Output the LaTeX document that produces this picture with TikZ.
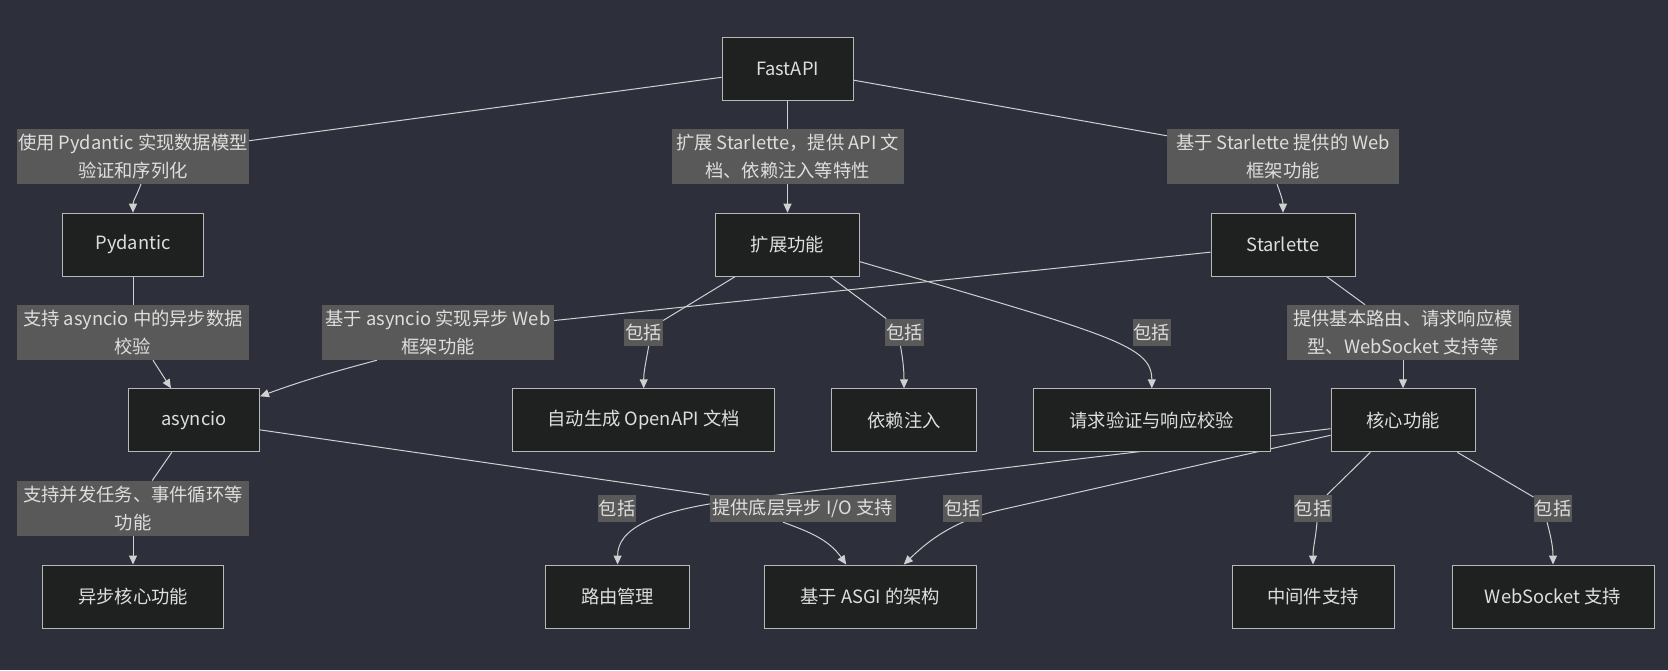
\documentclass[tikz,border=0pt]{standalone}
\usepackage{fontspec}
\setmainfont{Noto Sans CJK SC}
\usetikzlibrary{arrows.meta}
\definecolor{bgc}{HTML}{2D303B}
\definecolor{nodefill}{HTML}{1F2020}
\definecolor{nodeborder}{HTML}{B8B8B8}
\definecolor{labelfill}{HTML}{595959}
\definecolor{txt}{HTML}{DEDEDE}
\definecolor{edgecol}{HTML}{D0D0D0}
\pgfdeclarelayer{backdrop}
\pgfdeclarelayer{edges}
\pgfsetlayers{backdrop,edges,main}
\begin{document}
\begin{tikzpicture}[x=1pt,y=1pt,font=\fontsize{18.3}{27.5}\selectfont,
  box/.style={draw=nodeborder,fill=nodefill,line width=1pt,minimum height=63pt,text=txt,inner sep=0pt},
  elabel/.style={fill=labelfill,text=txt,inner sep=1pt,align=center},
  lbltwo/.style={elabel,minimum width=232pt,minimum height=55pt},
  inc/.style={elabel,minimum width=36.5pt,minimum height=27pt},
  conn/.style={draw=edgecol,line width=1pt},
  arr/.style={conn,-{Triangle[length=9pt,width=8pt]}}]
\begin{pgfonlayer}{backdrop}
\fill[bgc] (0,0) rectangle (1668,-670);
\end{pgfonlayer}
\useasboundingbox (0,0) rectangle (1668,-670);
% nodes
\node[box,minimum width=131pt] (fastapi) at (787.5,-68.5) {FastAPI};
\node[box,minimum width=141pt] (pyd) at (133,-244.7) {Pydantic};
\node[box,minimum width=144pt] (ext) at (787.5,-244.7) {扩展功能};
\node[box,minimum width=144pt] (star) at (1283,-244.7) {Starlette};
\node[box,minimum width=131pt] (asyncio) at (194,-420.3) {asyncio};
\node[box,minimum width=262pt] (openapi) at (643.7,-420.3) {自动生成 OpenAPI 文档};
\node[box,minimum width=145pt] (di) at (904,-420.3) {依赖注入};
\node[box,minimum width=237pt] (reqval) at (1151.8,-420.3) {请求验证与响应校验};
\node[box,minimum width=144pt] (core) at (1403,-420.3) {核心功能};
\node[box,minimum width=181pt] (asynccore) at (133,-596.5) {异步核心功能};
\node[box,minimum width=144pt] (routing) at (617.6,-596.5) {路由管理};
\node[box,minimum width=212pt] (asgi) at (870.2,-596.5) {基于 ASGI 的架构};
\node[box,minimum width=162pt] (middleware) at (1313,-596.5) {中间件支持};
\node[box,minimum width=202pt] (websocket) at (1553,-596.5) {WebSocket 支持};
% edge labels
\node[lbltwo] (l1) at (133,-156.3) {使用 Pydantic 实现数据模型\\验证和序列化};
\node[lbltwo] (l2) at (787.5,-156.3) {扩展 Starlette，提供 API 文\\档、依赖注入等特性};
\node[lbltwo] (l3) at (1283,-156.3) {基于 Starlette 提供的 Web\\框架功能};
\node[lbltwo] (l4) at (133,-332.5) {支持 asyncio 中的异步数据\\校验};
\node[lbltwo] (l5) at (438,-332.5) {基于 asyncio 实现异步 Web\\框架功能};
\node[lbltwo] (l6) at (1403,-332.5) {提供基本路由、请求响应模\\型、WebSocket 支持等};
\node[lbltwo] (l7) at (133,-508.3) {支持并发任务、事件循环等\\功能};
\node[elabel,minimum width=186pt,minimum height=27pt] (lio) at (802.5,-508.5) {提供底层异步 I/O 支持};
\node[inc] (ba) at (643.7,-332.3) {包括};
\node[inc] (bb) at (904.5,-332.3) {包括};
\node[inc] (bc) at (1151.8,-332.3) {包括};
\node[inc] (bd) at (617,-508.5) {包括};
\node[inc] (be) at (962.3,-508.5) {包括};
\node[inc] (bf) at (1313,-508.5) {包括};
\node[inc] (bg) at (1553,-508.5) {包括};
% edges
\begin{pgfonlayer}{edges}
\draw[conn] (fastapi) -- (l1);
\draw[arr] ([xshift=8pt]l1.south) to[out=-110,in=90] (pyd.north);
\draw[conn] (fastapi) -- (l2);
\draw[arr] (l2) -- (ext);
\draw[conn] (fastapi) -- (l3);
\draw[arr] ([xshift=-6pt]l3.south) to[out=-70,in=90] (star.north);
\draw[conn] (pyd) -- (l4);
\draw[arr] ([xshift=20pt]l4.south) -- ([xshift=-23pt]asyncio.north);
\draw[conn] (star) -- (l5);
\draw[arr] ([xshift=-61pt]l5.south) to[out=195,in=20] ([yshift=-8pt]asyncio.north east);
\draw[conn] (ext) -- (ba);
\draw[arr] ([xshift=5pt]ba.south) to[out=-100,in=90] (openapi.north);
\draw[conn] (ext) -- (bb);
\draw[arr] ([xshift=-4pt]bb.south) to[out=-80,in=90] (di.north);
\draw[arr] ([yshift=-17pt]ext.east) .. controls (1110,-335) and (1151.8,-345) .. (reqval.north);
\draw[conn] (star) -- (l6);
\draw[arr] (l6) -- (core);
\draw[conn] (asyncio) -- (l7);
\draw[arr] (l7) -- (asynccore);
\draw[conn] (asyncio) -- (lio);
\draw[arr] ([xshift=-19.5pt]lio.south) to[out=-20,in=125] ([xshift=-24pt]asgi.north);
\draw[arr] ([yshift=-8.4pt]core.west) -- (740,-499.6) .. controls (650,-510.4) and (617.6,-530) .. (routing.north);
\draw[arr] ([yshift=-15pt]core.west) -- (1000,-510) .. controls (950,-521.3) and (924,-545) .. ([xshift=33.6pt]asgi.north);
\draw[conn] (core) -- (bf);
\draw[arr] ([xshift=4pt]bf.south) to[out=-95,in=90] (middleware.north);
\draw[conn] (core) -- (bg);
\draw[arr] ([xshift=-6pt]bg.south) to[out=-75,in=90] (websocket.north);
\end{pgfonlayer}
\end{tikzpicture}
\end{document}
